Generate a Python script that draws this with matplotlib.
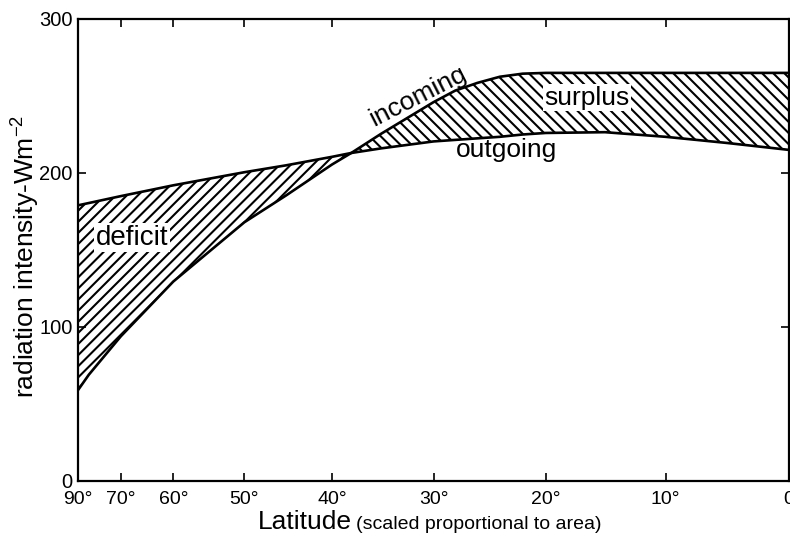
import numpy as np
import matplotlib
matplotlib.use("Agg")
import matplotlib.pyplot as plt

plt.rcParams['font.family'] = ['Liberation Sans', 'DejaVu Sans']
plt.rcParams['mathtext.fontset'] = 'custom'
plt.rcParams['mathtext.rm'] = 'Liberation Sans'
plt.rcParams['mathtext.it'] = 'Liberation Sans'
plt.rcParams['hatch.linewidth'] = 1.5

# data (latitude in degrees, W m-2)
lat = [90, 80, 70, 60, 50, 45, 40, 38, 35, 30, 28, 26, 24, 22, 20, 15, 10, 5, 0]
incoming = [59, 69, 94, 129.5, 168, 185.5, 205.5, 213, 225.5, 246, 253.5, 258.5,
            262.5, 264.5, 265, 265, 265, 265, 265]
outgoing = [179, 180.5, 185, 192, 200.5, 205, 210.5, 213, 216, 220.5, 221.5, 222.5,
            223.5, 225, 226, 226.5, 223.5, 219.5, 215]

tick_lat = [90, 70, 60, 50, 40, 30, 20, 10, 0]
tick_lab = ['90°', '70°', '60°', '50°', '40°', '30°', '20°', '10°', '0']
y_ticks = [0, 100, 200, 300]

lat = np.array(lat, dtype=float)
inc = np.array(incoming)
out = np.array(outgoing)


# x axis scaled proportional to area -> sin(latitude)
def fwd(x):
    return np.sin(np.radians(x))


def inv(x):
    return np.degrees(np.arcsin(np.clip(x, -1, 1)))


fig = plt.figure(figsize=(7.9, 5.35), dpi=100)
ax = fig.add_axes([78 / 790, 1 - 481 / 535, 711 / 790, 462 / 535])
ax.set_xscale('function', functions=(fwd, inv))

ax.fill_between(lat, inc, out, where=out >= inc, interpolate=True,
                facecolor='none', edgecolor='black', hatch='///', linewidth=0)
ax.fill_between(lat, inc, out, where=inc >= out, interpolate=True,
                facecolor='none', edgecolor='black', hatch='\\\\\\', linewidth=0)
ax.plot(lat, inc, color='black', lw=1.9)
ax.plot(lat, out, color='black', lw=1.9)

ax.set_xlim(90, 0)
ax.set_ylim(0, 300)
ax.set_xticks(tick_lat)
ax.set_xticklabels(tick_lab, fontsize=14)
ax.xaxis.set_minor_locator(matplotlib.ticker.NullLocator())
ax.set_yticks(y_ticks)
ax.set_yticklabels([str(v) for v in y_ticks], fontsize=14.5)
ax.tick_params(which='both', direction='in', top=True, right=True,
               length=6, width=1.2, pad=4)
ax.tick_params(axis='x', pad=7)
for s in ax.spines.values():
    s.set_linewidth(1.6)

box = dict(facecolor='white', edgecolor='none', pad=1)
ax.text(67.5, 158, 'deficit', fontsize=20, ha='center', va='center', bbox=box)
ax.text(16.5, 249, 'surplus', fontsize=19, ha='center', va='center', bbox=box)
ax.text(31.5, 250, 'incoming', fontsize=19, ha='center', va='center', rotation=27)
ax.text(23.4, 215, 'outgoing', fontsize=19, ha='center', va='center')

fig.text(26 / 790, 1 - 256 / 535, r'radiation intensity-Wm$^{-2}$', fontsize=19,
         rotation=90, ha='center', va='center')
fig.text(352 / 790, 1 - 529 / 535, 'Latitude', fontsize=19, ha='right', va='baseline')
fig.text(356 / 790, 1 - 529 / 535, '(scaled proportional to area)', fontsize=14,
         ha='left', va='baseline')

fig.savefig('out.png', dpi=100)
